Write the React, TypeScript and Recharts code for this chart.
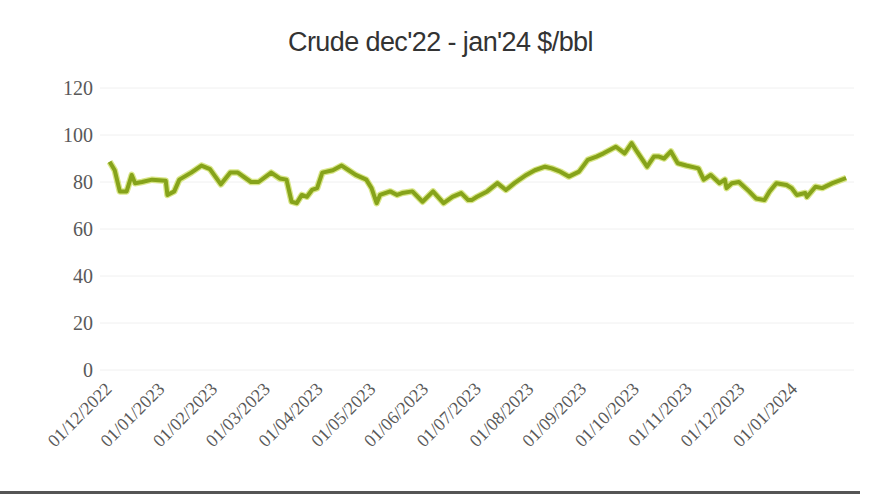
import React from "react"
import { LineChart, Line, XAxis, YAxis, CartesianGrid } from "recharts"

// closes (dd/mm/yyyy positions on a month axis)
const dates = [
  "2022-12-02", "2022-12-05", "2022-12-08", "2022-12-12", "2022-12-15", "2022-12-17", "2022-12-21",
  "2022-12-27", "2023-01-04", "2023-01-05", "2023-01-09", "2023-01-12", "2023-01-19", "2023-01-25",
  "2023-01-30", "2023-02-05", "2023-02-10", "2023-02-14", "2023-02-21", "2023-02-25", "2023-03-04",
  "2023-03-09", "2023-03-13", "2023-03-16", "2023-03-19", "2023-03-22", "2023-03-25", "2023-03-28",
  "2023-03-31", "2023-04-03", "2023-04-09", "2023-04-14", "2023-04-18", "2023-04-22", "2023-04-28",
  "2023-05-01", "2023-05-04", "2023-05-06", "2023-05-12", "2023-05-16", "2023-05-19", "2023-05-25",
  "2023-05-31", "2023-06-06", "2023-06-12", "2023-06-17", "2023-06-22", "2023-06-26", "2023-06-28",
  "2023-07-01", "2023-07-07", "2023-07-13", "2023-07-18", "2023-07-23", "2023-07-30", "2023-08-04",
  "2023-08-10", "2023-08-14", "2023-08-19", "2023-08-24", "2023-08-30", "2023-09-04", "2023-09-09",
  "2023-09-13", "2023-09-20", "2023-09-25", "2023-09-29", "2023-10-02", "2023-10-08", "2023-10-12",
  "2023-10-15", "2023-10-18", "2023-10-22", "2023-10-26", "2023-10-31", "2023-11-07", "2023-11-10",
  "2023-11-14", "2023-11-19", "2023-11-22", "2023-11-23", "2023-11-26", "2023-11-30", "2023-12-06",
  "2023-12-10", "2023-12-15", "2023-12-18", "2023-12-22", "2023-12-28", "2023-12-31", "2024-01-03",
  "2024-01-08", "2024-01-09", "2024-01-14", "2024-01-18", "2024-01-24", "2024-02-01",
]

const prices = [
  88.6, 85, 76, 76, 83, 79.5, 80,
  81, 80.5, 74.5, 76, 81, 84, 87,
  85.5, 79, 84, 84, 80, 80, 84,
  81.5, 81, 71.6, 71, 74.5, 73.7, 76.6,
  77.4, 84, 85, 87, 85, 83, 81,
  77.4, 71, 74.5, 76, 74.5, 75.3, 76,
  71.6, 76, 71, 73.7, 75.3, 72.3, 72.3,
  73.7, 76, 79.5, 76.6, 79.5, 83, 85,
  86.5, 85.8, 84.4, 82.3, 84.4, 89.4, 90.8,
  92.2, 95, 92.2, 96.5, 93, 86.5, 90.8,
  90.8, 90, 93, 88, 87, 85.8, 81,
  83, 79.5, 81, 77.4, 79.5, 80, 76,
  73, 72.3, 76, 79.5, 78.7, 77.4, 74.5,
  75.3, 73.7, 78, 77.4, 79.5, 81.7,
]

const tickLabels = [
  "01/12/2022", "01/01/2023", "01/02/2023", "01/03/2023", "01/04/2023", "01/05/2023", "01/06/2023",
  "01/07/2023", "01/08/2023", "01/09/2023", "01/10/2023", "01/11/2023", "01/12/2023", "01/01/2024",
]

const yTicks = [0, 20, 40, 60, 80, 100, 120]

// month index from dec 2022, plus fraction of the month
function monthPos(d: string) {
  const [y, mo, da] = d.split("-").map(Number)
  const idx = (y - 2022) * 12 + (mo - 12)
  const dim = new Date(y, mo, 0).getDate()
  return idx + (da - 1) / dim
}

const data = dates.map((d, i) => ({ m: monthPos(d), price: prices[i] }))

const serif = "'Liberation Serif', 'DejaVu Serif', serif"

function XTick(props: any) {
  const { x, y, payload } = props
  const tx = x + 5
  const ty = y + 12
  return (
    <text
      x={tx}
      y={ty}
      textAnchor="end"
      fill="#595959"
      fontSize={18}
      fontFamily={serif}
      transform={`rotate(-45 ${tx} ${ty})`}
    >
      {tickLabels[payload.value]}
    </text>
  )
}

function YTick(props: any) {
  const { x, y, payload } = props
  return (
    <text x={x + 1} y={y + 7} textAnchor="end" fill="#595959" fontSize={20} fontFamily={serif}>
      {payload.value}
    </text>
  )
}

export default function App() {
  return (
    <div style={{ position: "absolute", left: 0, top: 0, width: 881, height: 504, background: "#fff", overflow: "hidden" }}>
      <div
        style={{
          position: "absolute",
          top: 27,
          left: 0,
          width: 881,
          textAlign: "center",
          fontFamily: "'Liberation Sans', Arial, sans-serif",
          fontSize: 27,
          color: "#333",
          letterSpacing: -0.6,
        }}
      >
        Crude dec'22 - jan'24 $/bbl
      </div>
      <LineChart width={881} height={504} data={data} margin={{ top: 88, right: 27, bottom: 54, left: 60 }}>
        <CartesianGrid vertical={false} stroke="#f0f0f0" />
        <XAxis
          dataKey="m"
          type="number"
          domain={[-0.15, 14.15]}
          ticks={tickLabels.map((_, i) => i)}
          axisLine={false}
          tickLine={false}
          height={80}
          tick={<XTick />}
          interval={0}
        />
        <YAxis
          domain={[0, 120]}
          ticks={yTicks}
          axisLine={false}
          tickLine={false}
          width={40}
          tick={<YTick />}
        />
        <Line
          type="linear"
          dataKey="price"
          stroke="#c9dc55"
          strokeOpacity={0.7}
          strokeWidth={6.5}
          dot={false}
          isAnimationActive={false}
          strokeLinejoin="round"
        />
        <Line
          type="linear"
          dataKey="price"
          stroke="#86a31a"
          strokeWidth={4}
          dot={false}
          isAnimationActive={false}
          strokeLinejoin="round"
        />
      </LineChart>
      <div style={{ position: "absolute", left: 0, top: 491, width: 860, height: 3, background: "#555" }} />
    </div>
  )
}
